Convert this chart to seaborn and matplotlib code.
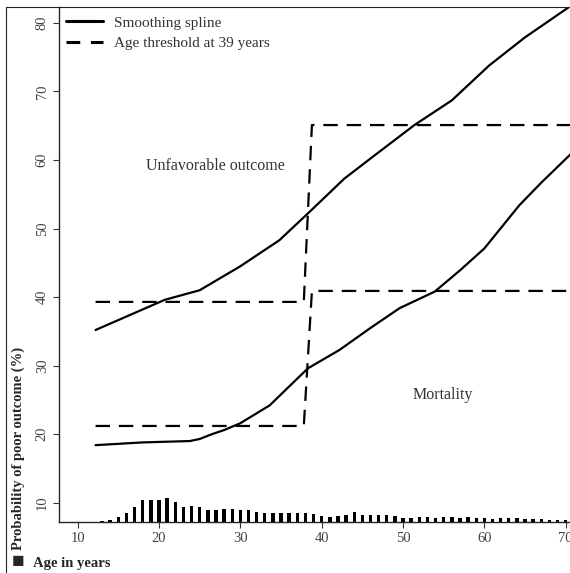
import matplotlib
matplotlib.use("Agg")
import matplotlib.pyplot as plt
from matplotlib.lines import Line2D
import seaborn as sns

# smoothing spline curves (age, % poor outcome)
unfav_age = [12.2, 20.7, 25.0, 30.0, 34.8, 38.3, 42.8, 46.2, 51.4, 56.0, 60.6, 65.0, 71.0]
unfav_pct = [35.2, 39.6, 41.0, 44.5, 48.3, 52.2, 57.3, 60.4, 65.1, 68.7, 73.8, 77.9, 82.8]

mort_age = [12.2, 18.0, 23.8, 25.0, 26.5, 28.0, 30.0, 33.6, 38.3, 42.2, 46.0, 49.6, 53.9, 57.0, 60.0, 64.3, 67.0, 71.0]
mort_pct = [18.4, 18.8, 19.0, 19.3, 20.0, 20.6, 21.6, 24.2, 29.6, 32.3, 35.5, 38.4, 40.8, 43.9, 47.1, 53.4, 56.7, 61.3]

# age threshold step functions
thr_age = [12.2, 37.8, 38.8, 71.0]
thr_unfav = [39.3, 39.3, 65.1, 65.1]
thr_mort = [21.2, 21.2, 40.9, 40.9]

# age distribution (bar heights, in axis units above baseline)
ages = list(range(13, 71))
age_freq = [0.15, 0.3, 0.73, 1.3, 2.2, 3.1, 3.1, 3.2, 3.5, 2.9,
            2.2, 2.3, 2.2, 1.75, 1.75, 1.9, 1.9, 1.75, 1.75, 1.45,
            1.3, 1.2, 1.2, 1.2, 1.2, 1.2, 1.1, 0.9, 0.7, 0.9,
            1.0, 1.4, 1.0, 1.0, 1.0, 1.0, 0.85, 0.6, 0.6, 0.75,
            0.75, 0.6, 0.75, 0.75, 0.6, 0.75, 0.6, 0.6, 0.45, 0.6,
            0.6, 0.6, 0.45, 0.45, 0.45, 0.3, 0.3, 0.3]

sns.set_style("ticks")
serif = ["Liberation Serif", "DejaVu Serif", "DejaVu Sans"]
plt.rcParams["font.family"] = serif

fig = plt.figure(figsize=(5.70, 5.73), dpi=100)
ax = fig.add_axes([0.104, 0.0895, 0.917, 0.898])

YMIN, YMAX = 7.23, 82.3
ax.set_xlim(7.74, 72.0)
ax.set_ylim(YMIN, YMAX)

# age histogram along the bottom
ax.bar(ages, age_freq, bottom=YMIN, width=0.42, color="black", linewidth=0)

lw = 1.6
sns.lineplot(x=unfav_age, y=unfav_pct, ax=ax, color="black", lw=lw)
sns.lineplot(x=mort_age, y=mort_pct, ax=ax, color="black", lw=lw)
sns.lineplot(x=thr_age, y=thr_unfav, ax=ax, color="black", lw=lw, linestyle=(0, (6.5, 4)))
sns.lineplot(x=thr_age, y=thr_mort, ax=ax, color="black", lw=lw, linestyle=(0, (6.5, 4)))

ax.text(26.9, 59.1, "Unfavorable outcome", ha="center", va="center", fontsize=11.5, color="#333333")
ax.text(54.9, 25.7, "Mortality", ha="center", va="center", fontsize=11.5, color="#333333")

handles = [Line2D([], [], color="black", lw=2.2),
           Line2D([], [], color="black", lw=2.2, linestyle=(0, (4.5, 3.5)))]
leg = ax.legend(handles, ["Smoothing spline", "Age threshold at 39 years"],
                loc="upper left", frameon=False, fontsize=11, handlelength=2.4,
                handletextpad=0.7, borderaxespad=0.0, labelspacing=0.45,
                bbox_to_anchor=(0.002, 0.995))
for t in leg.get_texts():
    t.set_color("#333333")

ax.set_xticks([10, 20, 30, 40, 50, 60, 70])
ax.set_yticks([10, 20, 30, 40, 50, 60, 70, 80])
ax.tick_params(axis="both", labelsize=10.5, labelcolor="#444444", color="#333333", length=4, width=0.8)
for lab in ax.get_yticklabels():
    lab.set_rotation(90)
    lab.set_va("center")
ax.spines["top"].set_visible(False)
ax.spines["right"].set_visible(False)
ax.spines["left"].set_linewidth(1.0)
ax.spines["bottom"].set_linewidth(1.0)
ax.set_xlabel("")
ax.set_ylabel("")

fig.text(18 / 570, 0.04, "Probability of poor outcome (%)", rotation=90,
         ha="center", va="bottom", fontsize=10.5, fontweight="bold")
fig.text(12 / 570, 1 - 563 / 573, "\u25a0", ha="left", va="center", fontsize=15)
fig.text(33 / 570, 1 - 563 / 573, "Age in years", ha="left", va="center",
         fontsize=10.5, fontweight="bold")

# outer frame (left and top edges visible)
fx, fy = 6 / 570, 1 - 7 / 573
fig.add_artist(Line2D([fx, fx], [0, fy], transform=fig.transFigure, color="#222222", lw=0.8))
fig.add_artist(Line2D([fx, 1], [fy, fy], transform=fig.transFigure, color="#222222", lw=0.8))

fig.savefig("out.png", dpi=100)
